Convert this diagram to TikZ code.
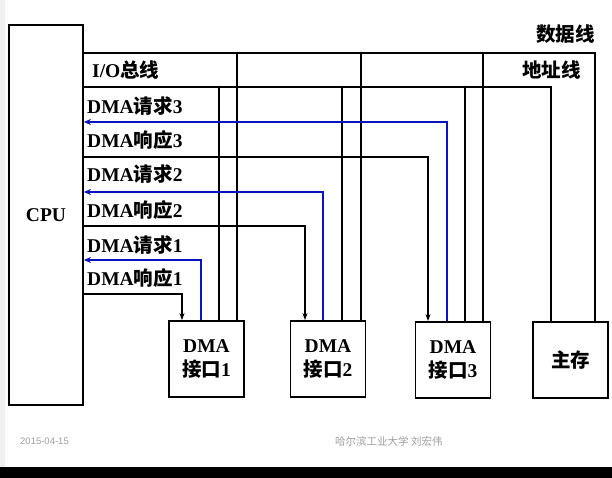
\documentclass[tikz,border=0pt]{standalone}
\usepackage{fontspec}
\setmainfont{Liberation Serif}
\newfontfamily\cjk{Noto Sans CJK SC}
\newfontfamily\footsans{Liberation Sans}
\usetikzlibrary{arrows.meta}
\definecolor{sigblue}{RGB}{10,20,190}
\newcommand{\zh}[1]{{\cjk #1}}

\begin{document}
\begin{tikzpicture}[x=1pt,y=-1pt,
  wire/.style={line width=1.8pt},
  req/.style={line width=1.8pt, draw=sigblue, -{Stealth[length=7pt,width=6pt]}},
  ack/.style={wire, -{Stealth[length=7pt,width=5pt]}},
  unit/.style={draw, line width=1.8pt, minimum width=75pt, minimum height=76pt,
    inner sep=0pt, align=center, font=\bfseries\fontsize{19.5}{24}\selectfont},
  lbl/.style={anchor=west, inner sep=0pt, font=\bfseries\fontsize{19.5}{24}\selectfont},
  foot/.style={text=gray!75, inner sep=0pt, anchor=west},
  joint/.style={fill, radius=1.4pt}]

% page
\path[use as bounding box] (0,0) rectangle (612,478);
\fill[white] (0,0) rectangle (612,478);
\fill[gray!12] (0,0) rectangle (5,467);
\fill[black] (0,467) rectangle (612,478);

% units
\node[unit, minimum width=74pt, minimum height=380pt] (cpu) at (46,215) {CPU};
\node[unit] (dma1) at (206.5,359) {DMA\\\zh{接口}1};
\node[unit] (dma2) at (328,359) {DMA\\\zh{接口}2};
\node[unit] (dma3) at (453,360) {DMA\\\zh{接口}3};
\node[unit] (mem) at (570.5,360) {\zh{主存}};

% data bus and address bus
\draw[wire] (cpu.east |- 0,53) -- (595,53) coordinate (dend) -- (dend |- mem.north);
\draw[wire] (cpu.east |- 0,87) -- (551,87) coordinate (aend) -- (aend |- mem.north);

% bus taps down to each DMA interface
\foreach \dx/\ax/\u in {237/219/dma1, 361/342/dma2, 483/465/dma3} {
  \coordinate (dt) at (\dx,53);
  \coordinate (at) at (\ax,87);
  \draw[wire] (dt) -- (dt |- \u.north);
  \draw[wire] (at) -- (at |- \u.north);
  \fill[joint] (dt) circle;
  \fill[joint] (at) circle;
}

% DMA requests (blue) and acknowledges (black)
\draw[req] (dma1.north -| 201,0) |- (cpu.east |- 0,260);
\draw[req] (dma2.north -| 323,0) |- (cpu.east |- 0,192);
\draw[req] (dma3.north -| 447,0) |- (cpu.east |- 0,122);
\draw[ack] (cpu.east |- 0,294) -| (dma1.north -| 182,0);
\draw[ack] (cpu.east |- 0,226) -| (dma2.north -| 305,0);
\draw[ack] (cpu.east |- 0,157) -| (dma3.north -| 428,0);

% signal labels
\node[lbl] (io) at (92,70) {I/O\zh{总线}};
\node[lbl] (rq3) at (87,106) {DMA\zh{请求}3};
\node[lbl] (ak3) at (87,140) {DMA\zh{响应}3};
\node[lbl] (rq2) at (87,174) {DMA\zh{请求}2};
\node[lbl] (ak2) at (87,210) {DMA\zh{响应}2};
\node[lbl] (rq1) at (87,245) {DMA\zh{请求}1};
\node[lbl] (ak1) at (87,278) {DMA\zh{响应}1};
\node[lbl, anchor=east] (dlab) at (595,34) {\zh{数据线}};
\node[lbl, anchor=east] (alab) at (581,70) {\zh{地址线}};

% footer
\node[foot, font=\footsans\fontsize{9.5}{12}\selectfont] (date) at (20,441) {2015-04-15};
\node[foot, font=\cjk\fontsize{10.5}{12}\selectfont] (org) at (335,441) {哈尔滨工业大学\ 刘宏伟};
\end{tikzpicture}
\end{document}
